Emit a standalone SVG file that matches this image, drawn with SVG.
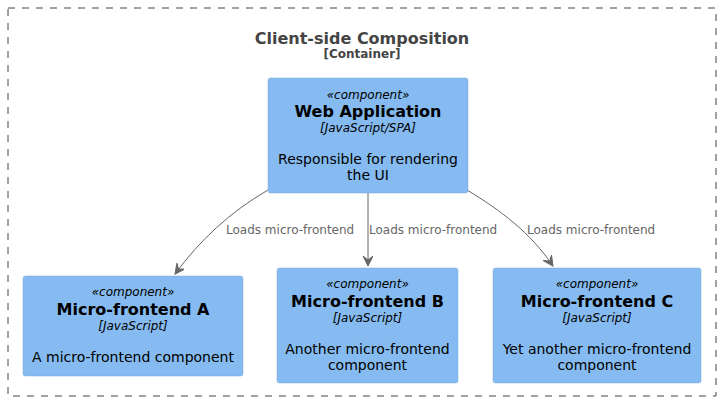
<svg xmlns="http://www.w3.org/2000/svg" width="722" height="404" viewBox="0 0 722 404">
<defs>
<marker id="arr" markerWidth="12" markerHeight="12" refX="10" refY="5" orient="auto" markerUnits="userSpaceOnUse">
<path d="M0,0 L10,5 L0,10 L4,5 Z" fill="#666666" stroke="#666666" stroke-width="1"/>
</marker>
</defs>
<style>
text{font-family:"DejaVu Sans","Liberation Sans",sans-serif;text-anchor:middle}
.node rect{fill:#85BBF0;stroke:#78A8D8;stroke-width:0.5}
.st{font-size:12px;font-style:italic;fill:#000}
.nm{font-size:16px;font-weight:bold;fill:#000}
.desc{font-size:14px;fill:#000}
.edge{fill:none;stroke:#666666;stroke-width:1}
.lbl{font-size:12px;fill:#666666;text-anchor:start}
</style>
<rect width="722" height="404" fill="#ffffff"/>
<g id="boundary">
<rect x="8" y="8" width="708" height="388" fill="none" stroke="#444444" stroke-width="1" stroke-dasharray="7,7"/>
<text x="362" y="44" style="font-size:16px;font-weight:bold;fill:#444444">Client-side Composition</text>
<text x="362" y="58" style="font-size:12px;font-weight:bold;fill:#444444">[Container]</text>
</g>
<g id="connectors">
<path class="edge" d="M268,190 C230,212 200,240 175,274" marker-end="url(#arr)"/>
<path class="edge" d="M368,193 L368,266" marker-end="url(#arr)"/>
<path class="edge" d="M467,190 C500,210 530,232 553,266" marker-end="url(#arr)"/>
<text class="lbl" x="226" y="234">Loads micro-frontend</text>
<text class="lbl" x="369" y="234">Loads micro-frontend</text>
<text class="lbl" x="527" y="234">Loads micro-frontend</text>
</g>
<g id="webapp" class="node">
<rect x="268" y="78" width="200" height="115" rx="2.5"/>
<text class="st" x="368" y="99">«component»</text>
<text class="nm" x="368" y="117">Web Application</text>
<text class="st" x="368" y="132">[JavaScript/SPA]</text>
<text class="desc" x="368" y="164">Responsible for rendering</text>
<text class="desc" x="368" y="180">the UI</text>
</g>
<g id="mfeA" class="node">
<rect x="23" y="276" width="220" height="100" rx="2.5"/>
<text class="st" x="133" y="296">«component»</text>
<text class="nm" x="133" y="315">Micro-frontend A</text>
<text class="st" x="133" y="330">[JavaScript]</text>
<text class="desc" x="133" y="362">A micro-frontend component</text>
</g>
<g id="mfeB" class="node">
<rect x="277" y="268" width="181" height="115" rx="2.5"/>
<text class="st" x="367.5" y="288">«component»</text>
<text class="nm" x="367.5" y="307">Micro-frontend B</text>
<text class="st" x="367.5" y="322">[JavaScript]</text>
<text class="desc" x="367.5" y="354">Another micro-frontend</text>
<text class="desc" x="367.5" y="370">component</text>
</g>
<g id="mfeC" class="node">
<rect x="493" y="268" width="208" height="115" rx="2.5"/>
<text class="st" x="597" y="288">«component»</text>
<text class="nm" x="597" y="307">Micro-frontend C</text>
<text class="st" x="597" y="322">[JavaScript]</text>
<text class="desc" x="597" y="354">Yet another micro-frontend</text>
<text class="desc" x="597" y="370">component</text>
</g>
</svg>
